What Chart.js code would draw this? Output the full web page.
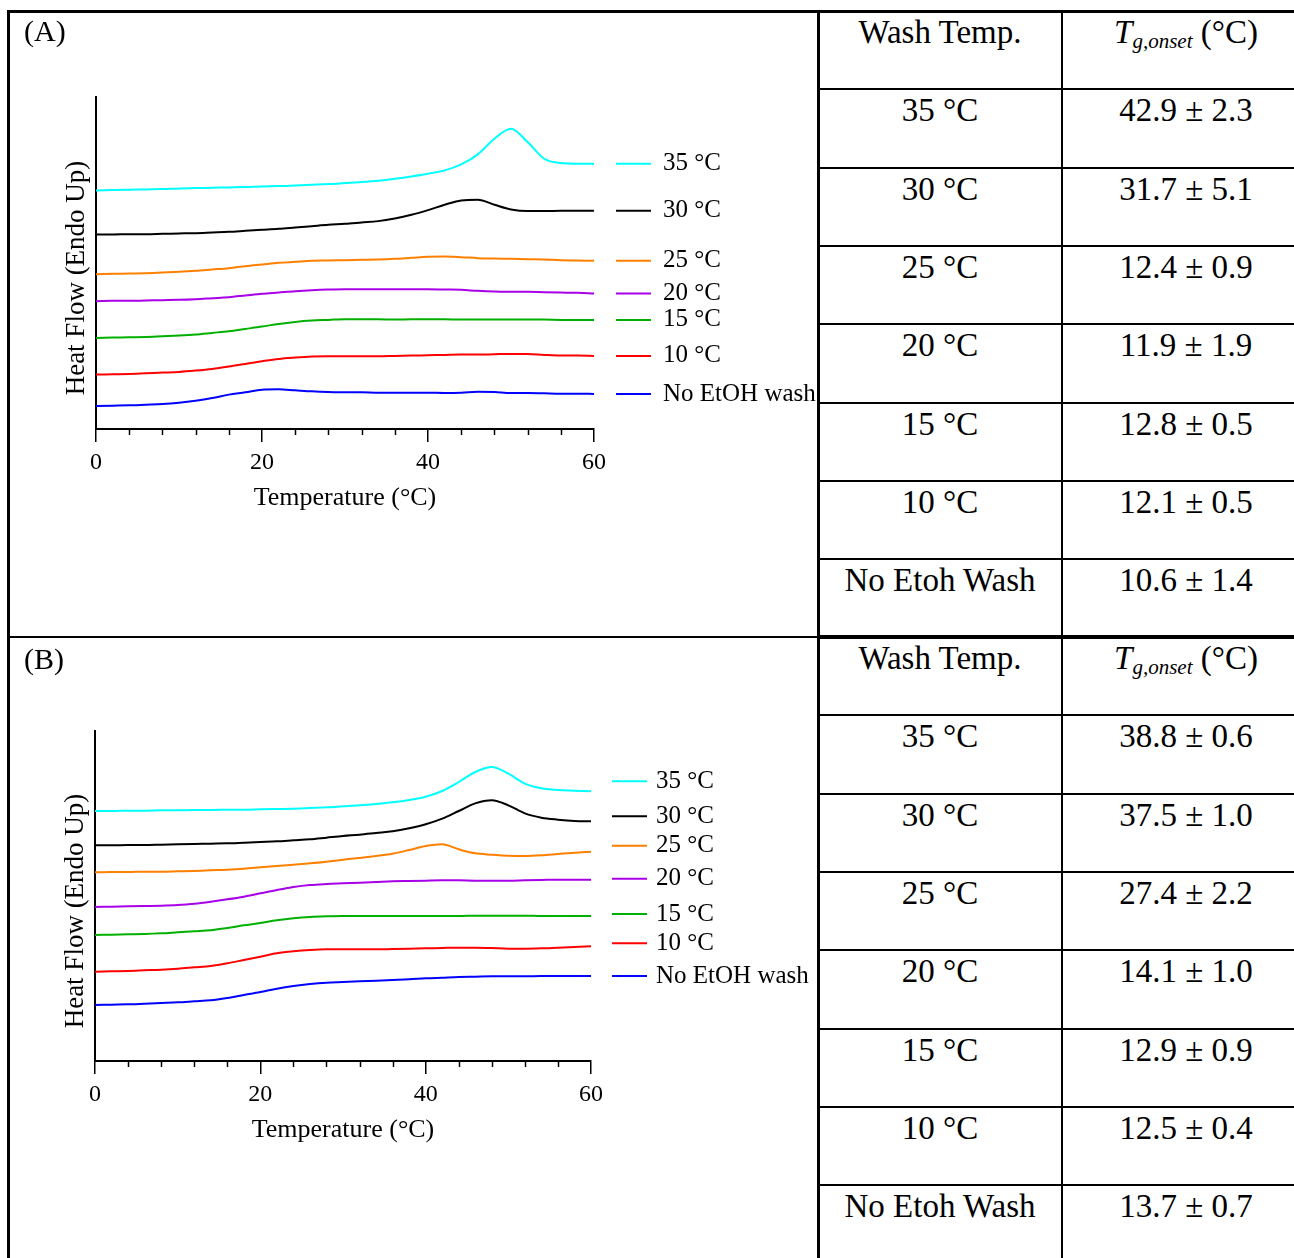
<!DOCTYPE html>
<html>
<head>
<meta charset="utf-8">
<script src="https://cdn.jsdelivr.net/npm/chart.js@4.4.1/dist/chart.umd.min.js"></script>
<style>
  body { margin: 0; background: #fff; }
  #page { position: relative; width: 1294px; height: 1258px; overflow: hidden;
          font-family: "Liberation Serif", "Times New Roman", serif; color: #000; }
  .line { position: absolute; background: #000; }
  .cell { position: absolute; text-align: center; font-size: 33px; line-height: 38px; white-space: nowrap; }
  .panel { position: absolute; font-size: 30px; line-height: 36px; }
  canvas { position: absolute; }
</style>
</head>
<body>
<div id="page">
  <canvas id="chartA" width="818" height="637" style="left:0;top:0"></canvas>
  <canvas id="chartB" width="818" height="621" style="left:0;top:637px"></canvas>
  <div class="panel" style="left:24px;top:13px">(A)</div>
  <div class="panel" style="left:24px;top:641px">(B)</div>
</div>
<script>
// temperature grid (°C)
const temps = [0,2,4,6,8,10,12,14,16,18,20,22,24,26,28,30,32,34,36,38,40,42,44,46,48,50,52,54,56,58,60];

const seriesNames = ['35 °C', '30 °C', '25 °C', '20 °C', '15 °C', '10 °C', 'No EtOH wash'];
const seriesColors = ['#00FFFF', '#000000', '#FF8000', '#A800E8', '#00B000', '#FF0000', '#0000FF'];

// panel A heat flow (arbitrary units, offset curves)
const a35   = [71.5,71.6,71.7,71.8,71.9,72.1,72.2,72.3,72.4,72.5,72.7,72.8,73.0,73.2,73.4,73.7,74.0,74.4,75.0,75.7,76.5,77.5,79.3,82.3,87.0,90.0,86.0,81.0,79.7,79.5,79.5];
const a30   = [58.3,58.3,58.4,58.4,58.5,58.6,58.7,58.9,59.1,59.4,59.7,60.0,60.4,60.8,61.2,61.5,61.9,62.3,63.1,64.2,65.6,67.2,68.5,68.7,67.2,65.8,65.3,65.3,65.4,65.4,65.4];
const a25   = [46.4,46.5,46.6,46.7,46.9,47.1,47.4,47.8,48.2,48.8,49.3,49.8,50.1,50.4,50.5,50.6,50.7,50.8,51.0,51.3,51.6,51.7,51.5,51.2,51.1,51.0,50.9,50.8,50.6,50.5,50.4];
const a20   = [38.3,38.4,38.4,38.5,38.6,38.7,38.9,39.2,39.5,40.0,40.5,40.9,41.3,41.6,41.8,41.9,41.9,41.9,41.9,41.9,41.9,41.8,41.7,41.4,41.2,41.1,41.1,41.0,40.9,40.8,40.6];
const a15   = [27.3,27.4,27.5,27.6,27.8,28.0,28.3,28.8,29.3,30.0,30.7,31.5,32.1,32.5,32.7,32.9,32.9,32.9,32.8,32.9,32.9,32.9,32.8,32.8,32.8,32.8,32.8,32.8,32.7,32.7,32.7];
const a10   = [16.3,16.4,16.5,16.7,16.9,17.1,17.5,18.0,18.7,19.5,20.3,21.0,21.4,21.7,21.8,21.8,21.8,21.8,21.9,22.0,22.1,22.2,22.3,22.3,22.4,22.5,22.5,22.2,22.0,22.0,21.9];
const aNone = [6.9,7.0,7.1,7.3,7.5,7.9,8.5,9.3,10.3,11.0,11.8,11.9,11.6,11.3,11.1,11.0,11.0,10.9,10.9,10.9,10.9,10.8,10.9,11.2,11.1,10.8,10.8,10.7,10.6,10.6,10.5];

// panel B heat flow
const b35   = [75.0,75.0,75.1,75.1,75.2,75.2,75.3,75.3,75.4,75.4,75.5,75.6,75.7,75.9,76.1,76.4,76.7,77.1,77.6,78.3,79.3,81.0,83.7,86.7,88.2,86.2,83.2,81.8,81.3,81.1,80.9];
const b30   = [64.7,64.7,64.8,64.8,64.9,65.0,65.1,65.2,65.3,65.5,65.7,65.9,66.2,66.5,67.0,67.5,67.9,68.4,68.9,69.8,71.0,72.7,75.0,77.3,78.2,76.7,74.3,73.0,72.4,72.0,71.9];
const b25   = [56.6,56.7,56.7,56.8,56.8,56.9,57.0,57.2,57.4,57.7,58.1,58.5,58.9,59.3,59.8,60.4,60.9,61.5,62.2,63.3,64.5,65.0,63.5,62.3,61.9,61.6,61.5,61.7,62.1,62.5,62.8];
const b20   = [46.2,46.3,46.4,46.5,46.6,46.8,47.2,47.8,48.5,49.3,50.3,51.3,52.2,52.8,53.1,53.3,53.5,53.7,53.9,54.0,54.1,54.2,54.2,54.1,54.1,54.1,54.2,54.3,54.4,54.4,54.4];
const b15   = [37.8,37.9,38.0,38.1,38.3,38.6,38.9,39.2,39.9,40.7,41.4,42.2,42.8,43.2,43.4,43.5,43.5,43.5,43.5,43.5,43.5,43.5,43.5,43.6,43.6,43.6,43.6,43.5,43.5,43.5,43.5];
const b10   = [26.8,26.9,27.0,27.2,27.4,27.7,28.1,28.5,29.3,30.3,31.3,32.3,32.9,33.3,33.5,33.5,33.5,33.5,33.6,33.7,33.8,33.9,34.0,34.0,33.9,33.7,33.7,33.8,34.0,34.2,34.4];
const bNone = [16.8,16.9,17.0,17.2,17.4,17.6,17.9,18.2,18.9,19.8,20.7,21.7,22.5,23.1,23.5,23.7,23.9,24.1,24.3,24.5,24.8,25.0,25.2,25.3,25.4,25.4,25.4,25.5,25.5,25.5,25.5];

// tables
const washTemps = ['35 °C', '30 °C', '25 °C', '20 °C', '15 °C', '10 °C', 'No Etoh Wash'];
const tgOnsetA = ['42.9 ± 2.3', '31.7 ± 5.1', '12.4 ± 0.9', '11.9 ± 1.9', '12.8 ± 0.5', '12.1 ± 0.5', '10.6 ± 1.4'];
const tgOnsetB = ['38.8 ± 0.6', '37.5 ± 1.0', '27.4 ± 2.2', '14.1 ± 1.0', '12.9 ± 0.9', '12.5 ± 0.4', '13.7 ± 0.7'];

const FONT = 'Liberation Serif';

// legend entries drawn at the right end of each curve
const endLegend = {
    id: 'endLegend',
    afterDatasetsDraw(chart, args, opts) {
        const { ctx, chartArea, scales } = chart;
        ctx.save();
        ctx.font = '25px "' + FONT + '"';
        ctx.textBaseline = 'middle';
        ctx.fillStyle = '#000';
        chart.data.datasets.forEach((ds, i) => {
            const last = ds.data[ds.data.length - 1];
            const y = scales.y.getPixelForValue(last.y) + (opts.nudge ? opts.nudge[i] : 0);
            ctx.strokeStyle = ds.borderColor;
            ctx.lineWidth = 2;
            ctx.beginPath();
            ctx.moveTo(chartArea.right + opts.lineFrom, y);
            ctx.lineTo(chartArea.right + opts.lineTo, y);
            ctx.stroke();
            ctx.fillText(ds.label, chartArea.right + opts.textAt, y);
        });
        ctx.restore();
    }
};

// rotated y title, sits a bit below the axis centre like the original
const yTitle = {
    id: 'yTitle',
    afterDraw(chart, args, opts) {
        const { ctx, chartArea } = chart;
        ctx.save();
        ctx.translate(chartArea.left - 19, (chartArea.top + chartArea.bottom) / 2 + 15);
        ctx.rotate(-Math.PI / 2);
        ctx.font = '27px "' + FONT + '"';
        ctx.textAlign = 'center';
        ctx.textBaseline = 'middle';
        ctx.fillStyle = '#000';
        ctx.fillText(opts.text, 0, 0);
        ctx.restore();
    }
};

// short minor ticks between labelled ones
const minorTicks = {
    id: 'minorTicks',
    afterDraw(chart) {
        const { ctx, chartArea, scales } = chart;
        ctx.save();
        ctx.strokeStyle = '#000';
        ctx.lineWidth = 1.5;
        scales.x.ticks.forEach(t => {
            if (t.value % 20 === 0) return;
            const px = Math.round(scales.x.getPixelForValue(t.value)) + 0.5;
            ctx.beginPath();
            ctx.moveTo(px, chartArea.bottom);
            ctx.lineTo(px, chartArea.bottom + 6);
            ctx.stroke();
        });
        ctx.restore();
    }
};

function makeChart(id, series, opts) {
    return new Chart(document.getElementById(id), {
        type: 'line',
        data: {
            datasets: series.map((vals, i) => ({
                label: seriesNames[i],
                data: temps.map((t, k) => ({ x: t, y: vals[k] })),
                borderColor: seriesColors[i],
                borderWidth: 2,
                pointRadius: 0,
                cubicInterpolationMode: 'monotone',
                fill: false
            }))
        },
        options: {
            responsive: false,
            animation: false,
            layout: { padding: opts.padding },
            plugins: {
                legend: { display: false },
                tooltip: { enabled: false },
                endLegend: opts.legend,
                yTitle: { text: 'Heat Flow (Endo Up)' }
            },
            scales: {
                x: {
                    type: 'linear', min: 0, max: 60,
                    ticks: {
                        stepSize: 4, autoSkip: false, maxRotation: 0, padding: 6, color: '#000',
                        font: { family: FONT, size: 24 },
                        callback: v => (v % 20 === 0 ? v : '')
                    },
                    grid: {
                        drawOnChartArea: false, tickLength: 13, lineWidth: 1.5,
                        tickColor: c => (c.tick && c.tick.value % 20 === 0 ? '#000' : 'rgba(0,0,0,0)')
                    },
                    border: { color: '#000', width: 2 },
                    title: {
                        display: true, text: 'Temperature (°C)', color: '#000',
                        font: { family: FONT, size: 26 }, padding: { top: 4, bottom: 5 }
                    },
                    afterFit: s => { s.height = 90; }
                },
                y: {
                    min: 0, max: opts.yMax,
                    ticks: { display: false },
                    grid: { display: false },
                    border: { color: '#000', width: 2 },
                    afterFit: s => { s.width = 0; }
                }
            }
        },
        plugins: [endLegend, yTitle, minorTicks]
    });
}

makeChart('chartA', [a35, a30, a25, a20, a15, a10, aNone], {
    yMax: 99.5,
    padding: { left: 96, right: 224, top: 97, bottom: 118 },
    legend: { lineFrom: 22, lineTo: 57, textAt: 69 }
});
makeChart('chartB', [b35, b30, b25, b20, b15, b10, bNone], {
    yMax: 99,
    padding: { left: 95, right: 227, top: 94, bottom: 107 },
    legend: { lineFrom: 21, lineTo: 56, textAt: 65, nudge: [-10, -5, -6, -1, -2, -3, 0] }
});

// frame and tables
const page = document.getElementById('page');
function box(cls, left, top, width, height, html) {
    const d = document.createElement('div');
    d.className = cls;
    d.style.left = left + 'px';
    d.style.top = top + 'px';
    d.style.width = width + 'px';
    if (height != null) d.style.height = height + 'px';
    if (html != null) d.innerHTML = html;
    page.appendChild(d);
}

const tgHeader = '<i>T</i><i style="font-size:21px;position:relative;top:5px">g,onset</i> (°C)';
const rowH = 78.3;
function table(top0, values) {
    const rows = [['Wash Temp.', tgHeader]].concat(washTemps.map((w, i) => [w, values[i]]));
    rows.forEach((r, i) => {
        const top = top0 + i * rowH;
        if (i > 0) box('line', 818, Math.round(top) - 1, 476, 2);
        box('cell', 818, Math.round(top) + 2, 244, null, r[0]);
        box('cell', 1062, Math.round(top) + 2, 248, null, r[1]);
    });
}
table(11, tgOnsetA);
table(637, tgOnsetB);

box('line', 7, 10, 1287, 3);
box('line', 7, 10, 3, 1248);
box('line', 817, 10, 3, 1248);
box('line', 1061, 10, 2, 1248);
box('line', 7, 636, 811, 2);
box('line', 818, 635, 476, 4);
</script>
</body>
</html>
